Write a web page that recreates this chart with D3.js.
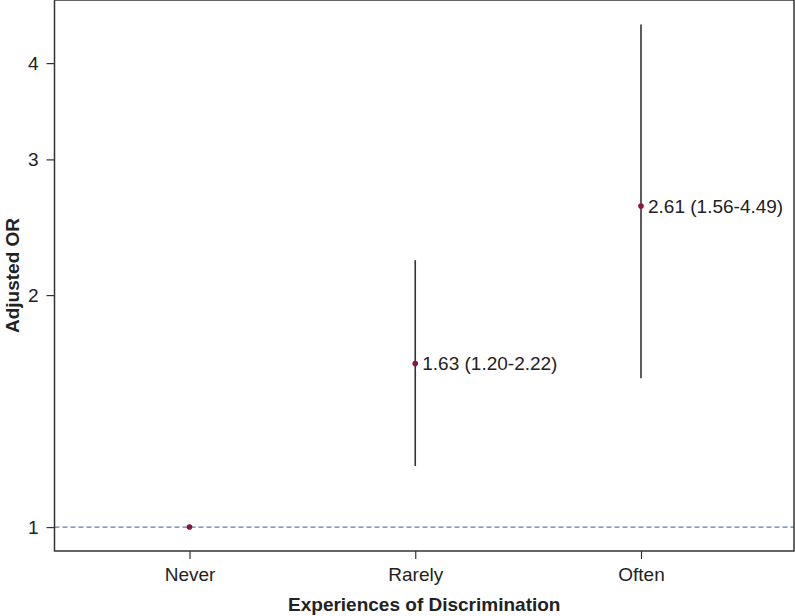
<!DOCTYPE html>
<html>
<head>
<meta charset="utf-8">
<script src="https://cdn.jsdelivr.net/npm/d3@7"></script>
<style>
  body { margin: 0; background: #fff; }
  text { font-family: 'Liberation Sans', Arial, sans-serif; }
</style>
</head>
<body>
<div id="chart"></div>
<script>
// Data
const categories = ['Never', 'Rarely', 'Often']
const estimates = [1, 1.63, 2.61]
const lower = [null, 1.20, 1.56]
const upper = [null, 2.22, 4.49]
const labels = [null, '1.63 (1.20-2.22)', '2.61 (1.56-4.49)']
const yTicks = [1, 2, 3, 4]

const dimensions = {
  width: 795,
  height: 616,
  margin: { top: 0, bottom: 65, left: 54.5, right: 1 }
}
dimensions.ctrWidth = dimensions.width - dimensions.margin.left - dimensions.margin.right
dimensions.ctrHeight = dimensions.height - dimensions.margin.top - dimensions.margin.bottom

const svg = d3.select('#chart')
  .append('svg')
  .attr('width', dimensions.width)
  .attr('height', dimensions.height)

const ctr = svg.append('g')
  .attr('transform', `translate(${dimensions.margin.left}, ${dimensions.margin.top})`)

// Scales
const xScale = d3.scalePoint()
  .domain(categories)
  .range([135, 586.5])

const yScale = d3.scaleLog()
  .domain([0.931, 4.83])
  .range([dimensions.ctrHeight, 0])

// Reference line
ctr.append('line')
  .attr('x1', 0)
  .attr('x2', dimensions.ctrWidth)
  .attr('y1', yScale(1))
  .attr('y2', yScale(1))
  .attr('stroke', '#5a7eab')
  .attr('stroke-width', 1.2)
  .attr('stroke-dasharray', '5,3')

const rows = categories.map((c, i) => ({
  cat: c, est: estimates[i], lo: lower[i], hi: upper[i], label: labels[i]
}))

// CI lines
ctr.selectAll('.ci')
  .data(rows.filter(d => d.lo !== null))
  .join('line')
  .attr('class', 'ci')
  .attr('x1', d => xScale(d.cat))
  .attr('x2', d => xScale(d.cat))
  .attr('y1', d => yScale(d.lo))
  .attr('y2', d => yScale(d.hi))
  .attr('stroke', '#333')
  .attr('stroke-width', 1.6)

// Points
ctr.selectAll('.pt')
  .data(rows)
  .join('circle')
  .attr('class', 'pt')
  .attr('cx', d => xScale(d.cat))
  .attr('cy', d => yScale(d.est))
  .attr('r', 2.8)
  .attr('fill', '#8c1340')

// Labels
ctr.selectAll('.lbl')
  .data(rows.filter(d => d.label))
  .join('text')
  .attr('class', 'lbl')
  .attr('x', d => xScale(d.cat) + 7)
  .attr('y', d => yScale(d.est))
  .attr('dy', '0.35em')
  .attr('font-size', 19)
  .attr('fill', '#222')
  .text(d => d.label)

// Frame
ctr.append('rect')
  .attr('x', 0)
  .attr('y', 0)
  .attr('width', dimensions.ctrWidth)
  .attr('height', dimensions.ctrHeight)
  .attr('fill', 'none')
  .attr('stroke', '#333')
  .attr('stroke-width', 1.5)

// Axes
const xAxis = d3.axisBottom(xScale).tickSize(8).tickPadding(9)
const xAxisGroup = ctr.append('g')
  .attr('transform', `translate(0, ${dimensions.ctrHeight})`)
  .call(xAxis)
xAxisGroup.select('.domain').remove()
xAxisGroup.selectAll('line').attr('stroke', '#333').attr('stroke-width', 1.2)
xAxisGroup.selectAll('text')
  .attr('font-size', 19)
  .attr('fill', '#222')
  .style('font-family', "'Liberation Sans', Arial, sans-serif")

const yAxis = d3.axisLeft(yScale).tickValues(yTicks).tickFormat(d3.format('d')).tickSize(8).tickPadding(8)
const yAxisGroup = ctr.append('g').call(yAxis)
yAxisGroup.select('.domain').remove()
yAxisGroup.selectAll('line').attr('stroke', '#333').attr('stroke-width', 1.2)
yAxisGroup.selectAll('text')
  .attr('font-size', 19)
  .attr('fill', '#222')
  .style('font-family', "'Liberation Sans', Arial, sans-serif")

// Axis titles
svg.append('text')
  .attr('x', dimensions.margin.left + dimensions.ctrWidth / 2)
  .attr('y', 611)
  .attr('text-anchor', 'middle')
  .attr('font-size', 19)
  .attr('font-weight', 'bold')
  .attr('fill', '#222')
  .text('Experiences of Discrimination')

svg.append('text')
  .attr('transform', `translate(19, ${dimensions.ctrHeight / 2}) rotate(-90)`)
  .attr('text-anchor', 'middle')
  .attr('font-size', 19)
  .attr('font-weight', 'bold')
  .attr('fill', '#222')
  .text('Adjusted OR')
</script>
</body>
</html>
